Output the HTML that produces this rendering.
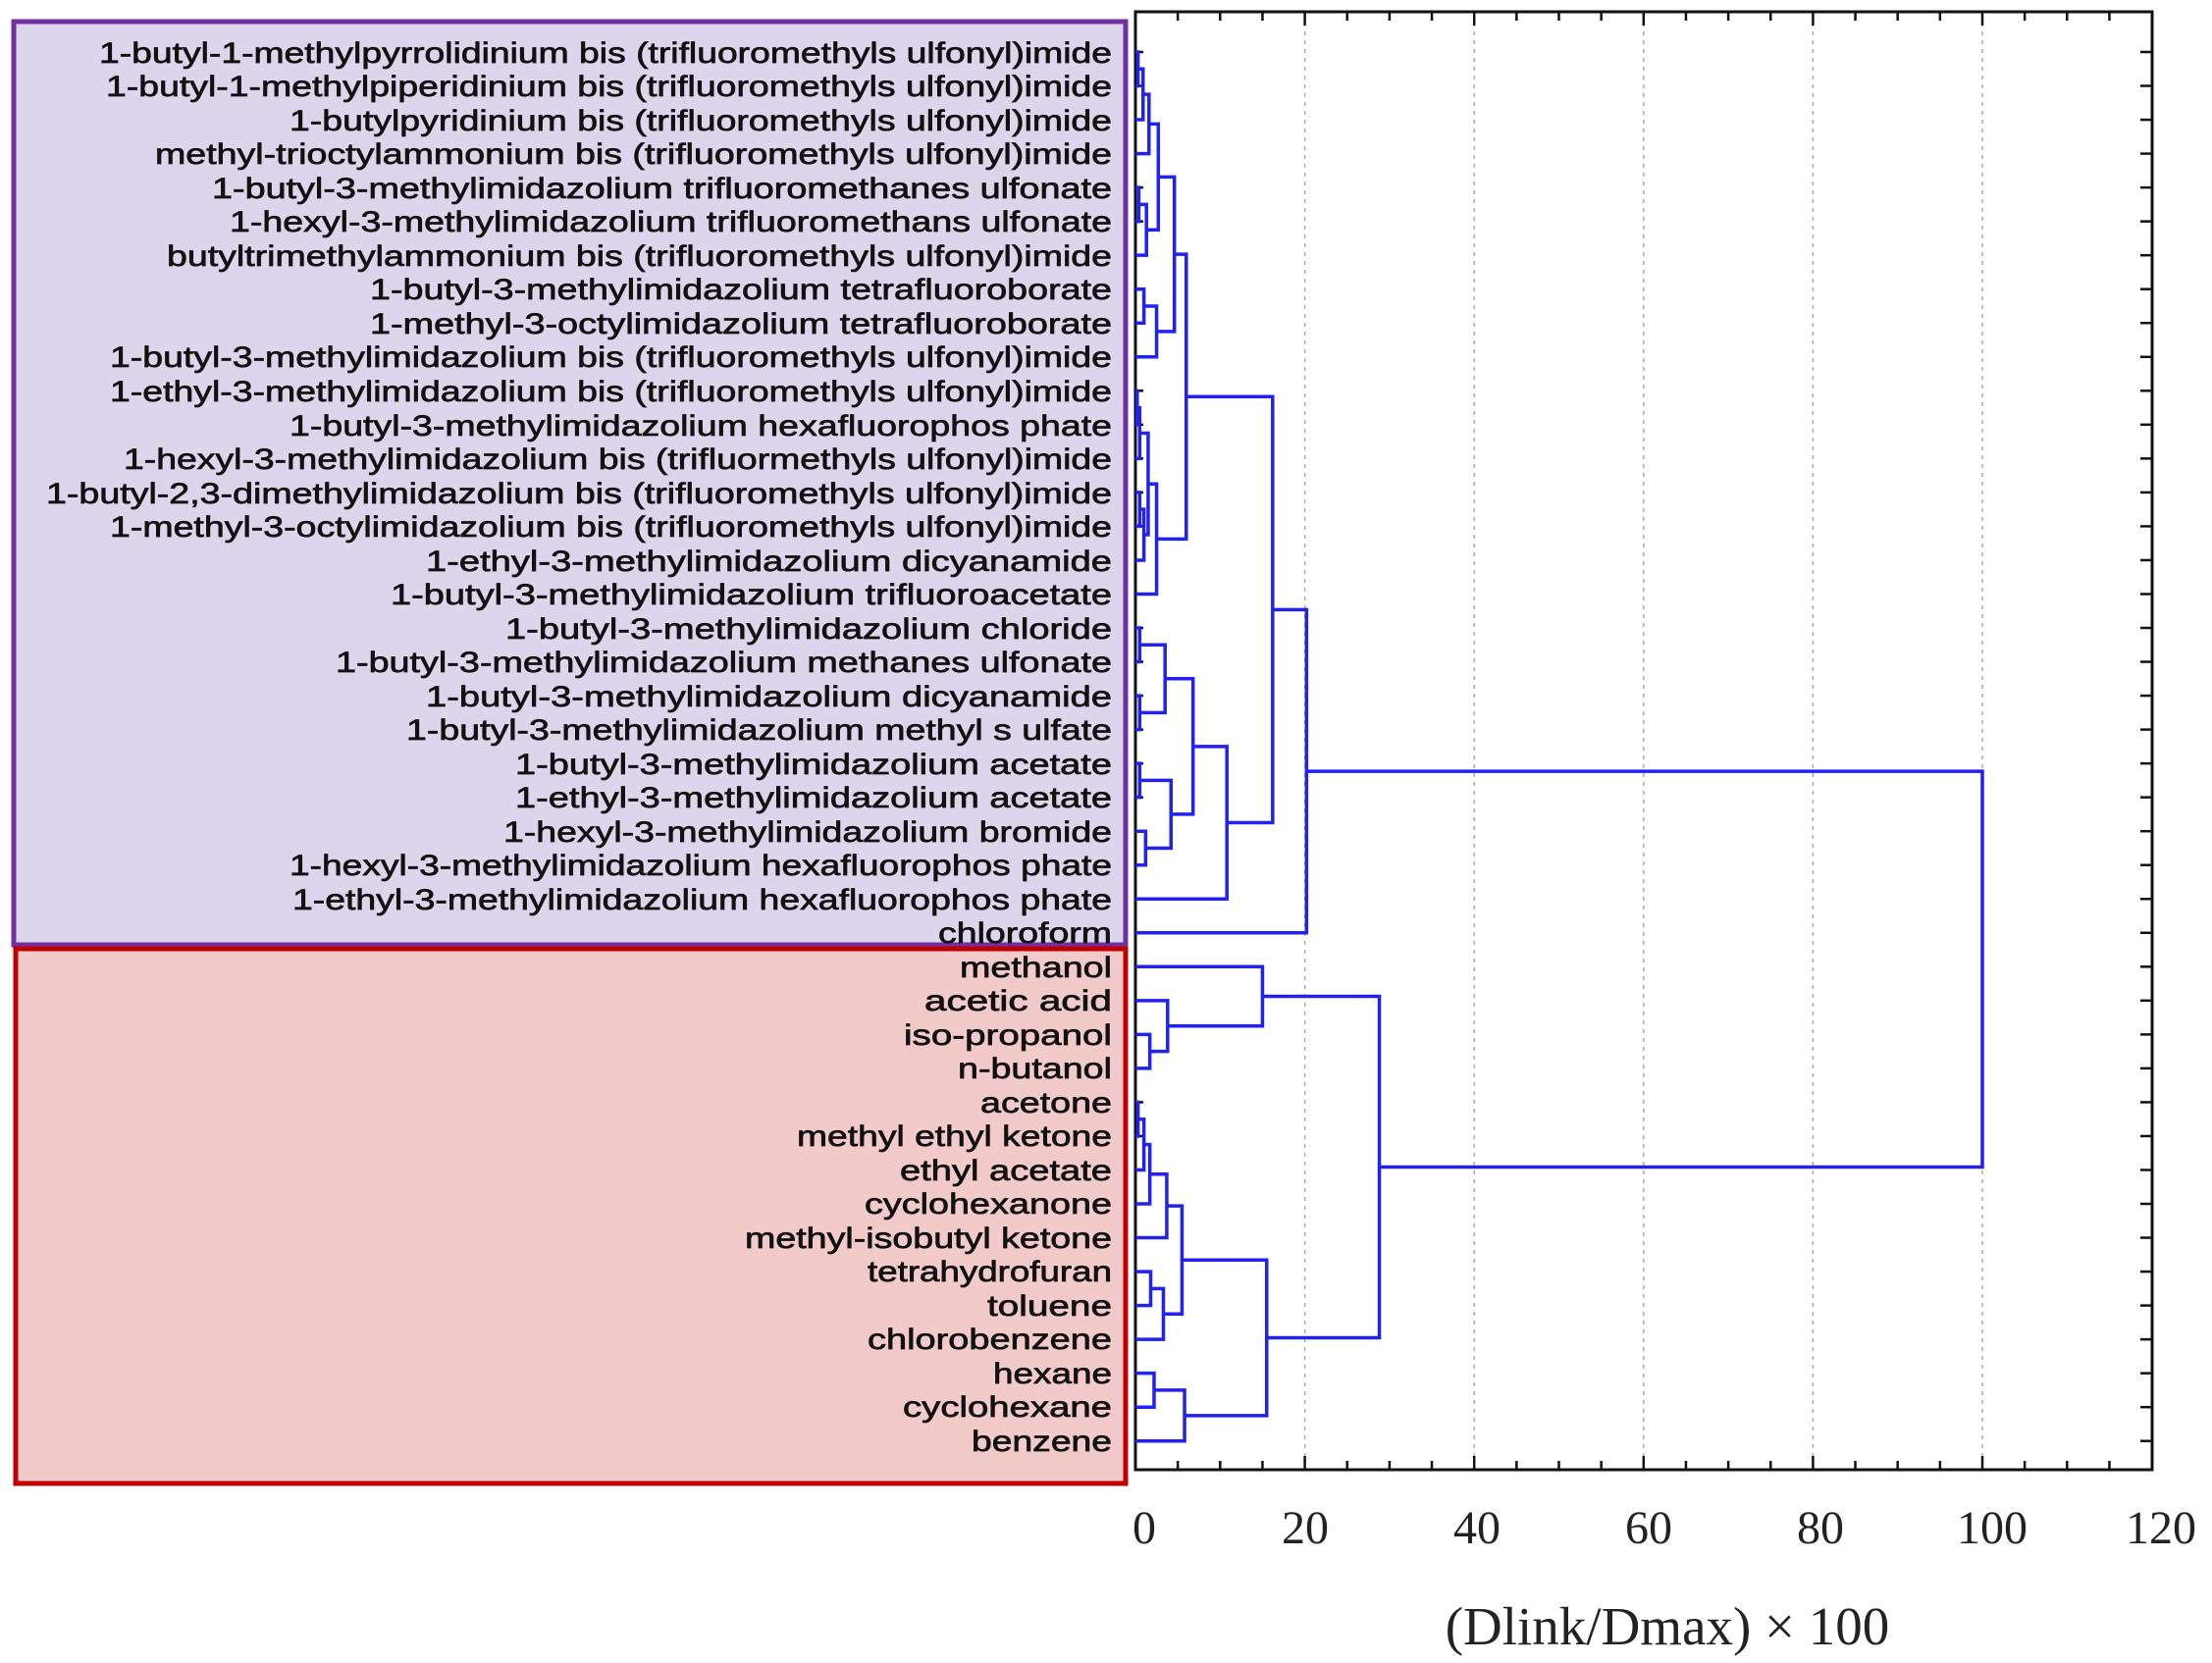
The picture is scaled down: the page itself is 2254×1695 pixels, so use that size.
<!DOCTYPE html>
<html><head><meta charset="utf-8"><style>
html,body{margin:0;padding:0;background:#fff;}
svg{display:block;}
.l{font-family:"Liberation Sans",sans-serif;font-size:30px;fill:#111;stroke:#111;stroke-width:0.7px;}
.t{font-family:"Liberation Serif",serif;font-size:48px;fill:#222;}
</style></head><body>
<svg id="s" width="2254" height="1695" viewBox="0 0 2254 1695" xmlns="http://www.w3.org/2000/svg">
<rect x="14" y="22" width="1133" height="941" fill="#ddd5eb" stroke="#7030a0" stroke-width="5"/>
<rect x="16" y="967" width="1131" height="545" fill="#f2caca" stroke="#c00000" stroke-width="5"/>
<g id="grid" stroke="#aaa" stroke-width="1.5" stroke-dasharray="4,5"></g>
<rect x="1157" y="12" width="1036" height="1486" fill="none" stroke="#111" stroke-width="3"/>
<g id="ticks" stroke="#111" stroke-width="2.5"></g>
<g id="dend" stroke="#2222ee" stroke-width="3.5" fill="none"></g>
<g class="l" text-anchor="end">
<text x="1133" y="64" textLength="1032" lengthAdjust="spacingAndGlyphs">1-butyl-1-methylpyrrolidinium bis (trifluoromethyls ulfonyl)imide</text>
<text x="1133" y="98" textLength="1025" lengthAdjust="spacingAndGlyphs">1-butyl-1-methylpiperidinium bis (trifluoromethyls ulfonyl)imide</text>
<text x="1133" y="133" textLength="838" lengthAdjust="spacingAndGlyphs">1-butylpyridinium bis (trifluoromethyls ulfonyl)imide</text>
<text x="1133" y="167" textLength="975" lengthAdjust="spacingAndGlyphs">methyl-trioctylammonium bis (trifluoromethyls ulfonyl)imide</text>
<text x="1133" y="202" textLength="917" lengthAdjust="spacingAndGlyphs">1-butyl-3-methylimidazolium trifluoromethanes ulfonate</text>
<text x="1133" y="236" textLength="899" lengthAdjust="spacingAndGlyphs">1-hexyl-3-methylimidazolium trifluoromethans ulfonate</text>
<text x="1133" y="271" textLength="963" lengthAdjust="spacingAndGlyphs">butyltrimethylammonium bis (trifluoromethyls ulfonyl)imide</text>
<text x="1133" y="305" textLength="756" lengthAdjust="spacingAndGlyphs">1-butyl-3-methylimidazolium tetrafluoroborate</text>
<text x="1133" y="340" textLength="756" lengthAdjust="spacingAndGlyphs">1-methyl-3-octylimidazolium tetrafluoroborate</text>
<text x="1133" y="374" textLength="1021" lengthAdjust="spacingAndGlyphs">1-butyl-3-methylimidazolium bis (trifluoromethyls ulfonyl)imide</text>
<text x="1133" y="409" textLength="1021" lengthAdjust="spacingAndGlyphs">1-ethyl-3-methylimidazolium bis (trifluoromethyls ulfonyl)imide</text>
<text x="1133" y="444" textLength="838" lengthAdjust="spacingAndGlyphs">1-butyl-3-methylimidazolium hexafluorophos phate</text>
<text x="1133" y="478" textLength="1007" lengthAdjust="spacingAndGlyphs">1-hexyl-3-methylimidazolium bis (trifluormethyls ulfonyl)imide</text>
<text x="1133" y="513" textLength="1086" lengthAdjust="spacingAndGlyphs">1-butyl-2,3-dimethylimidazolium bis (trifluoromethyls ulfonyl)imide</text>
<text x="1133" y="547" textLength="1021" lengthAdjust="spacingAndGlyphs">1-methyl-3-octylimidazolium bis (trifluoromethyls ulfonyl)imide</text>
<text x="1133" y="582" textLength="699" lengthAdjust="spacingAndGlyphs">1-ethyl-3-methylimidazolium dicyanamide</text>
<text x="1133" y="616" textLength="735" lengthAdjust="spacingAndGlyphs">1-butyl-3-methylimidazolium trifluoroacetate</text>
<text x="1133" y="651" textLength="618" lengthAdjust="spacingAndGlyphs">1-butyl-3-methylimidazolium chloride</text>
<text x="1133" y="685" textLength="791" lengthAdjust="spacingAndGlyphs">1-butyl-3-methylimidazolium methanes ulfonate</text>
<text x="1133" y="720" textLength="699" lengthAdjust="spacingAndGlyphs">1-butyl-3-methylimidazolium dicyanamide</text>
<text x="1133" y="754" textLength="719" lengthAdjust="spacingAndGlyphs">1-butyl-3-methylimidazolium methyl s ulfate</text>
<text x="1133" y="789" textLength="608" lengthAdjust="spacingAndGlyphs">1-butyl-3-methylimidazolium acetate</text>
<text x="1133" y="823" textLength="608" lengthAdjust="spacingAndGlyphs">1-ethyl-3-methylimidazolium acetate</text>
<text x="1133" y="858" textLength="620" lengthAdjust="spacingAndGlyphs">1-hexyl-3-methylimidazolium bromide</text>
<text x="1133" y="892" textLength="838" lengthAdjust="spacingAndGlyphs">1-hexyl-3-methylimidazolium hexafluorophos phate</text>
<text x="1133" y="927" textLength="835" lengthAdjust="spacingAndGlyphs">1-ethyl-3-methylimidazolium hexafluorophos phate</text>
<text x="1133" y="961" textLength="177" lengthAdjust="spacingAndGlyphs">chloroform</text>
<text x="1133" y="996" textLength="155" lengthAdjust="spacingAndGlyphs">methanol</text>
<text x="1133" y="1030" textLength="191" lengthAdjust="spacingAndGlyphs">acetic acid</text>
<text x="1133" y="1065" textLength="212" lengthAdjust="spacingAndGlyphs">iso-propanol</text>
<text x="1133" y="1099" textLength="157" lengthAdjust="spacingAndGlyphs">n-butanol</text>
<text x="1133" y="1134" textLength="134" lengthAdjust="spacingAndGlyphs">acetone</text>
<text x="1133" y="1168" textLength="321" lengthAdjust="spacingAndGlyphs">methyl ethyl ketone</text>
<text x="1133" y="1203" textLength="216" lengthAdjust="spacingAndGlyphs">ethyl acetate</text>
<text x="1133" y="1237" textLength="252" lengthAdjust="spacingAndGlyphs">cyclohexanone</text>
<text x="1133" y="1272" textLength="374" lengthAdjust="spacingAndGlyphs">methyl-isobutyl ketone</text>
<text x="1133" y="1306" textLength="249" lengthAdjust="spacingAndGlyphs">tetrahydrofuran</text>
<text x="1133" y="1341" textLength="127" lengthAdjust="spacingAndGlyphs">toluene</text>
<text x="1133" y="1375" textLength="249" lengthAdjust="spacingAndGlyphs">chlorobenzene</text>
<text x="1133" y="1410" textLength="121" lengthAdjust="spacingAndGlyphs">hexane</text>
<text x="1133" y="1444" textLength="213" lengthAdjust="spacingAndGlyphs">cyclohexane</text>
<text x="1133" y="1479" textLength="143" lengthAdjust="spacingAndGlyphs">benzene</text>
</g>
<g class="t" text-anchor="middle">
<text x="1166" y="1573">0</text>
<text x="1330" y="1573">20</text>
<text x="1505" y="1573">40</text>
<text x="1680" y="1573">60</text>
<text x="1855" y="1573">80</text>
<text x="2030" y="1573">100</text>
<text x="2202" y="1573">120</text>
<text x="1699" y="1676" style="font-size:55px">(Dlink/Dmax) × 100</text>
</g>
</svg>
<script>
(function(){
var NS="http://www.w3.org/2000/svg";
function X(u){return 1157+8.63*u;}
function Y(i){return 53+34.53*i;}
function ln(g,x1,y1,x2,y2){var l=document.createElementNS(NS,"line");l.setAttribute("x1",x1);l.setAttribute("y1",y1);l.setAttribute("x2",x2);l.setAttribute("y2",y2);g.appendChild(l);}
var grid=document.getElementById("grid"),ticks=document.getElementById("ticks"),d=document.getElementById("dend");
for(var u=20;u<=100;u+=20)ln(grid,X(u),14,X(u),1496);
for(var u=5;u<120;u+=5){var L=(u%20==0)?14:9;ln(ticks,X(u),12,X(u),12+L);ln(ticks,X(u),1498,X(u),1498-L);}
for(var i=0;i<42;i++){ln(ticks,2193,Y(i),2181,Y(i));ln(ticks,1157,Y(i),1165,Y(i));}
var A=[[[0,1,.3],2,.9],3,1.6];
var B=[[4,5,.4],6,1.3];
var AB=[A,B,2.7];
var C=[[7,8,1.0],9,2.5];
var ABC=[AB,C,4.6];
var D1=[[[10,11,.2],12,.5],[[13,14,.5],15,1.0],1.5];
var D=[D1,16,2.5];
var ABCD=[ABC,D,6.0];
var E=[[[[17,18,.5],[19,20,.5],3.5],[[21,22,.5],[23,24,1.2],4.2],6.8],25,10.8];
var IL=[[ABCD,E,16.2],26,20.2];
var S1=[27,[28,[29,30,1.7],3.8],15.0];
var S2=[[[[31,32,.3],33,1.0],34,1.7],35,3.7];
var S3=[[36,37,1.8],38,3.3];
var S4=[[39,40,2.2],41,5.8];
var S5=[[S2,S3,5.5],S4,15.5];
var root=[IL,[S1,S5,28.8],100];
function draw(n){
 if(typeof n==="number")return {y:Y(n),h:0};
 var a=draw(n[0]),b=draw(n[1]),x=X(n[2]);
 var p=document.createElementNS(NS,"path");
 p.setAttribute("d","M"+X(a.h)+","+a.y+"H"+x+"V"+b.y+"H"+X(b.h));
 d.appendChild(p);
 return {y:(a.y+b.y)/2,h:n[2]};
}
draw(root);
})();
</script>
</body></html>
